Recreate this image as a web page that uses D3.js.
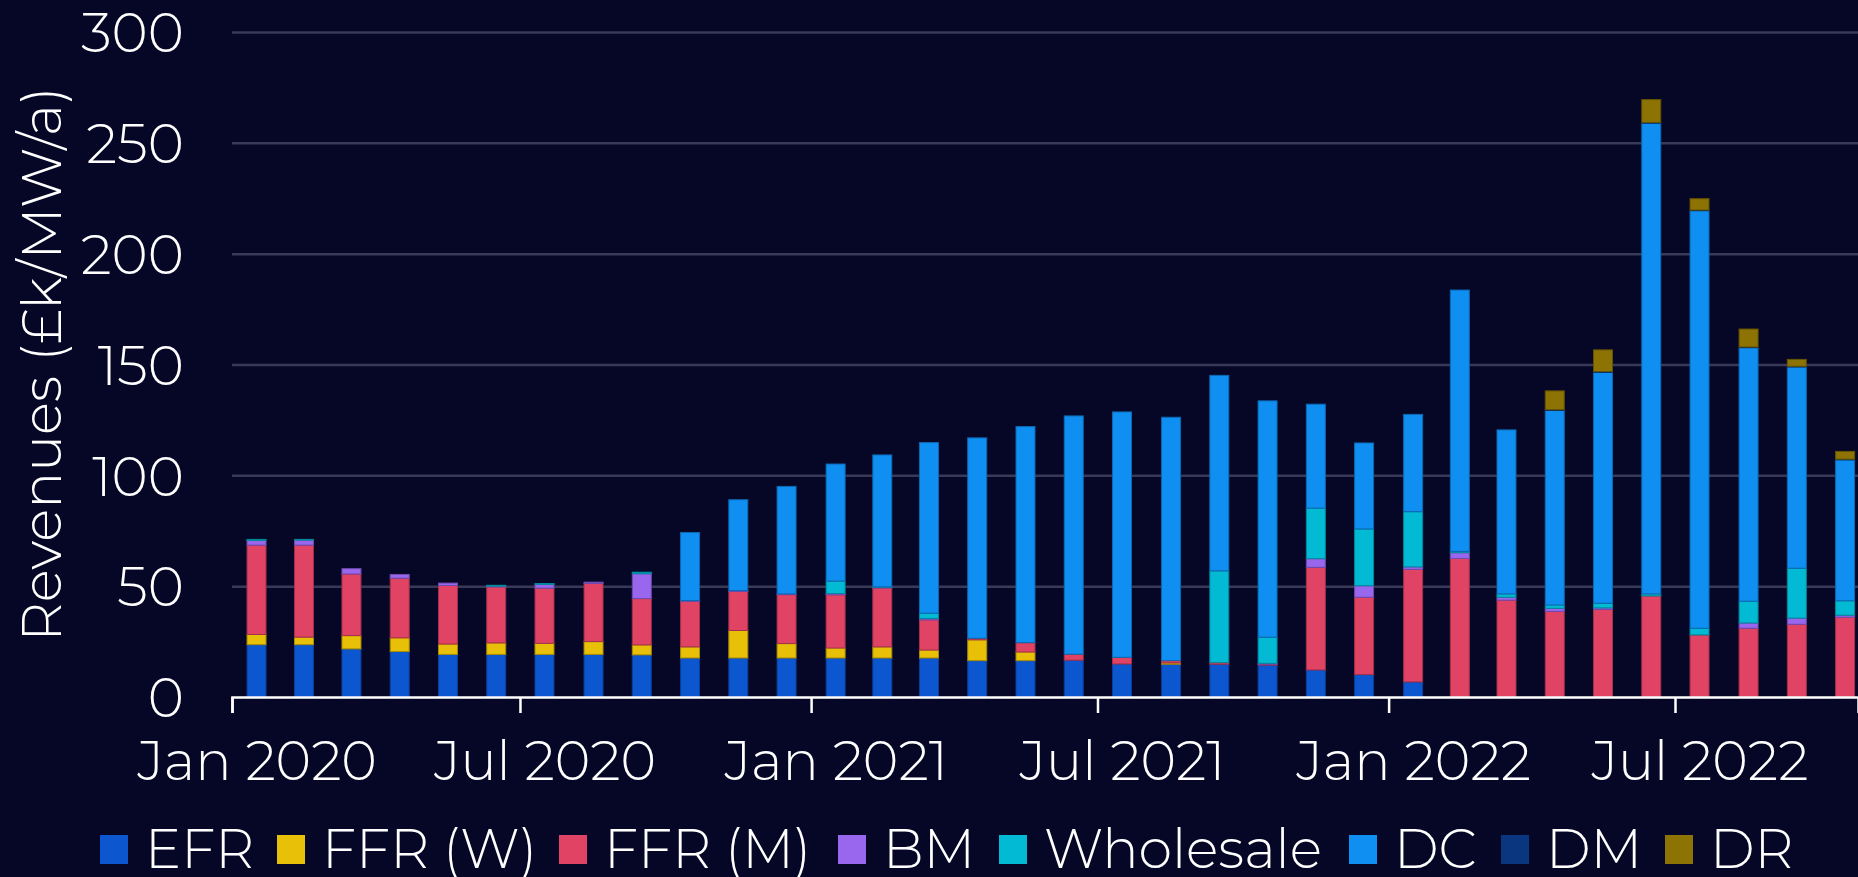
<!DOCTYPE html>
<meta charset="utf-8">
<style>
body { margin: 0; background: #060727; }
svg { display: block; font-family: Montserrat, Lato, "Open Sans", sans-serif; font-weight: 300; }
.grid line { stroke: #393a57; stroke-width: 2.5; }
.grid path { display: none; }
.axis--y path { display: none; }
.axis text { fill: #fff; }
.axis--x path, .axis--x line { stroke: #fff; stroke-width: 2.5; }
</style>
<svg width="1858" height="877"></svg>
<script src="https://d3js.org/d3.v7.min.js"></script>
<script>

// months, Jan 2020 .. Oct 2022
var months = d3.utcMonths(new Date(Date.UTC(2020, 0, 1)), new Date(Date.UTC(2022, 10, 1)));

var keys = ["EFR", "FFR (W)", "FFR (M)", "BM", "Wholesale", "DC", "DM", "DR"];
var colours = ["#0c57d0", "#e8c007", "#e14365", "#9966ee", "#03bad5", "#108ff2", "#0a3680", "#8c7303"];

var efr = [23.6, 23.6, 21.7, 20.5, 19.2, 19.2, 19.2, 19.2, 19.0, 17.6, 17.6, 17.6, 17.6, 17.6, 17.6, 16.4, 16.4,
           16.6, 14.9, 14.8, 14.8, 14.4, 12.2, 10.1, 6.8, 0, 0, 0, 0, 0, 0, 0, 0, 0];
var ffrW = [4.6, 3.4, 6.0, 6.2, 4.7, 5.2, 5.0, 5.8, 4.5, 5.0, 12.4, 6.5, 4.5, 5.0, 3.6, 9.4, 3.9,
            0, 0, 0.6, 0, 0, 0, 0, 0, 0, 0, 0, 0, 0, 0, 0, 0, 0];
var ffrM = [40.3, 41.5, 27.8, 26.9, 26.4, 25.3, 24.9, 26.2, 20.9, 20.5, 17.6, 22.1, 24.0, 26.6, 13.6, 0.7, 4.2,
            2.7, 3.0, 1.0, 0.7, 0.4, 46.3, 34.9, 50.8, 62.5, 43.7, 38.6, 39.5, 45.6, 28.0, 31.0, 32.8, 36.0];
var bm = [2.1, 2.3, 2.4, 1.7, 1.1, 0.3, 1.7, 0.6, 11.2, 0.4, 0.4, 0.3, 0.6, 0.3, 0.6, 0, 0,
          0, 0, 0, 0, 0.4, 3.9, 5.2, 1.1, 2.6, 1.3, 1.4, 0.7, 0, 0, 2.4, 2.8, 0.9];
var wholesale = [0.5, 0.3, 0, 0, 0, 0.4, 0.4, 0, 0.7, 0, 0, 0, 5.6, 0.2, 2.4, 0, 0,
                 0, 0, 0, 41.4, 11.8, 22.8, 25.6, 24.9, 0.6, 1.5, 1.5, 2.1, 0.9, 3.0, 9.8, 22.5, 6.5];
var dc = [0, 0, 0, 0, 0, 0, 0, 0, 0, 30.7, 41.0, 48.5, 52.8, 59.5, 77.0, 90.4, 97.5,
          107.5, 110.7, 109.8, 88.2, 106.6, 46.9, 38.8, 43.9, 117.9, 74.0, 87.8, 104.2, 212.4, 188.4, 114.4, 90.8, 63.6];
var dm = [0, 0, 0, 0, 0, 0, 0, 0, 0, 0, 0, 0, 0, 0, 0, 0, 0,
          0, 0, 0, 0, 0, 0, 0, 0, 0, 0, 0.3, 0.3, 0.3, 0.3, 0.3, 0.3, 0.3];
var dr = [0, 0, 0, 0, 0, 0, 0, 0, 0, 0, 0, 0, 0, 0, 0, 0, 0,
          0, 0, 0, 0, 0, 0, 0, 0, 0, 0, 8.5, 9.8, 10.3, 5.1, 8.1, 3.1, 3.5];

var yTicks = [0, 50, 100, 150, 200, 250, 300];

var series = [efr, ffrW, ffrM, bm, wholesale, dc, dm, dr];
var data = months.map(function(m, i) {
  var row = {date: m};
  keys.forEach(function(k, j) { row[k] = series[j][i]; });
  return row;
});

var svg = d3.select("svg"),
    W = +svg.attr("width");

svg.append("rect").attr("width", W).attr("height", 877).attr("fill", "#060727");

var plotLeft = 232, plotTop = 32, plotBottom = 697;

// x: Jan 2020 at 232, Jul 2022 at 1675; the plot runs off the right edge
var x = d3.scaleUtc()
    .domain([new Date(Date.UTC(2020, 0, 1)), new Date(Date.UTC(2022, 6, 1))])
    .range([plotLeft, 1675]);
x.domain([x.domain()[0], x.invert(W)]).range([plotLeft, W]);

var y = d3.scaleLinear().domain([0, 300]).range([plotBottom, plotTop]);
var colour = d3.scaleOrdinal().domain(keys).range(colours);

// gridlines
svg.append("g")
    .attr("class", "grid")
    .attr("transform", "translate(" + plotLeft + ",0)")
    .call(d3.axisLeft(y).tickValues(yTicks.slice(1)).tickSize(-(W - plotLeft)).tickFormat(""));

svg.append("g")
    .attr("class", "axis axis--y")
    .attr("transform", "translate(" + (plotLeft - 48) + ",0)")
    .call(d3.axisLeft(y).tickValues(yTicks).tickSize(0).tickPadding(0))
    .attr("font-family", null)
    .selectAll("text")
    .attr("font-size", 55)
    .attr("dy", "0.36em");

svg.append("text")
    .attr("transform", "translate(41," + 364 + ") rotate(-90)")
    .attr("text-anchor", "middle")
    .attr("dy", "0.36em")
    .attr("fill", "#fff")
    .attr("font-size", 55)
    .text("Revenues (£k/MW/a)");

// stacked bars
var stack = d3.stack().keys(keys)(data);
var barW = 19;
var midMonth = function(m) { return (x(m) + x(d3.utcMonth.offset(m, 1))) / 2; };

svg.append("g").selectAll("g")
  .data(stack)
  .join("g")
    .attr("fill", function(d) { return colour(d.key); })
    .attr("stroke", function(d) { return d3.color(colour(d.key)).darker(0.9); })
    .attr("stroke-width", 1)
  .selectAll("rect")
  .data(function(d) { return d.filter(function(v) { return v[1] - v[0] > 0; }); })
  .join("rect")
    .attr("x", function(d) { return midMonth(d.data.date) - barW / 2; })
    .attr("y", function(d) { return y(d[1]); })
    .attr("width", barW)
    .attr("height", function(d) { return y(d[0]) - y(d[1]); });

// x axis: ticks on month starts, labels centred on the month
var xAxis = svg.append("g")
    .attr("class", "axis axis--x")
    .attr("transform", "translate(0," + plotBottom + ")")
    .call(d3.axisBottom(x)
      .ticks(d3.utcMonth.every(6))
      .tickSizeOuter(0)
      .tickSize(16)
      .tickPadding(29)
      .tickFormat(d3.utcFormat("%b %Y")))
    .attr("font-family", null);
xAxis.selectAll("text")
    .attr("font-size", 54)
    .attr("dy", "0.71em")
    .attr("x", function(d) { return midMonth(d) - x(d); });

// legend
var legendX = [100, 277, 559, 838, 999, 1349, 1501, 1665];
var legend = svg.append("g").selectAll("g")
  .data(keys)
  .join("g")
    .attr("transform", function(d, i) { return "translate(" + legendX[i] + ",849)"; });

legend.append("rect")
    .attr("x", 0).attr("y", -14)
    .attr("width", 28).attr("height", 29)
    .attr("fill", function(d) { return colour(d); });

legend.append("text")
    .attr("x", 45)
    .attr("dy", "0.36em")
    .attr("fill", "#fff")
    .attr("font-size", 54)
    .text(function(d) { return d; });

</script>
